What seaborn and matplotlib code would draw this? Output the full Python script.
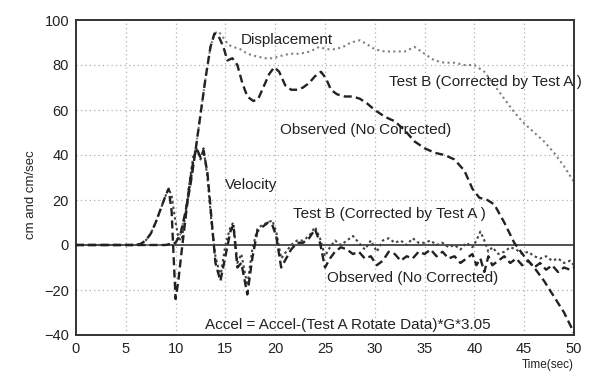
import matplotlib
matplotlib.use("Agg")
import matplotlib.pyplot as plt
import seaborn as sns
import pandas as pd

# ---------------- data ----------------
t_disp_obs = [0, 5, 9, 9.5, 10, 10.5, 11, 11.5, 12, 12.5, 13, 13.5, 13.9, 14.3, 14.8, 15.2, 15.7,
              16.2, 16.7, 17.2, 17.8, 18.3, 18.8, 19.4, 19.9, 20.4, 21.0, 21.6, 22.2, 22.8, 23.4,
              24.0, 24.6, 25.1, 25.6, 26.2, 27.0, 27.8, 28.5, 29.2, 30, 31, 32, 33, 34, 35, 36, 37,
              38, 39, 39.8, 40.5, 41.3, 42, 43, 44, 45, 46, 47, 48, 49, 50]
disp_obs = [0, 0, 0, 0.5, 1, 5, 15, 27, 42, 58, 74, 88, 94, 93, 88, 82, 83,
            80, 72, 66, 64, 65, 70, 76, 79, 77, 71, 69, 69, 70, 72,
            75, 77, 74, 69, 67, 66, 66, 65, 63, 60, 57, 55, 51, 46, 43, 41, 40,
            38, 33, 25, 21, 20, 18, 10, 1, -5, -10, -16, -23, -30, -39]

t_disp_b = [0, 5, 9, 9.5, 10, 10.5, 11, 11.5, 12, 12.5, 13, 13.5, 13.9, 14.3, 14.8, 15.3, 15.8,
            16.5, 17.2, 18, 19, 19.8, 20.5, 21.5, 22.5, 23.5, 24.4, 25.2, 26, 26.8, 27.6, 28.5,
            29.3, 30, 31, 32, 33, 34, 35, 36, 37, 38, 39, 40, 41, 42, 43, 44, 45, 46, 47, 48, 49, 50]
disp_b = [0, 0, 0, 0.5, 1, 5, 15, 27, 42, 58, 74, 88, 94, 95, 92, 89, 88,
          87, 85, 84, 83, 83, 84, 85, 85, 86, 88, 87, 87, 88, 90, 91,
          89, 87, 86, 86, 86, 88, 85, 82, 81, 81, 80, 80, 77, 71, 65, 59, 54, 50, 46, 41, 35, 28]

t_vel = [0, 6, 6.5, 7, 7.5, 8, 8.5, 9, 9.3, 9.6, 9.8, 10.0, 10.3, 10.6, 11.0, 11.4, 11.8, 12.1,
         12.5, 12.8, 13.2, 13.6, 14.0, 14.5, 15.0, 15.5, 15.8, 16.2, 16.6, 17.2, 17.7, 18.2, 18.7,
         19.3, 19.7, 20.1, 20.6, 21.1, 21.6, 22.2, 22.8, 23.4, 24.0, 24.5, 25.0, 25.5, 26.0, 26.6,
         27.2, 27.8, 28.4, 29.0, 29.6, 30.2, 30.8, 31.4, 32.0, 32.6, 33.2, 33.8, 34.4, 35.0, 35.6,
         36.2, 36.8, 37.4, 38.0, 38.6, 39.2, 39.8, 40.2, 40.6, 41.0, 41.4, 41.8, 42.4, 43.0, 43.6,
         44.2, 44.8, 45.4, 46.0, 46.6, 47.2, 47.8, 48.4, 49.0, 49.6, 50.0]
vel_obs = [0, 0, 0.5, 2, 5, 10, 16, 22, 25, 15, -5, -24, -15, -3, 12, 27, 38, 43,
           39, 42, 32, 12, -8, -16, -5, 6, 9, -10, -8, -22, -6, 6, 8,
           10, 9, 4, -10, -6, -2, 1, 1, 3, 7, 1, -10, -6, -3, -1,
           -2, -4, -3, -6, -5, -9, -7, -3, -4, -7, -5, -6, -3, -4, -2,
           -5, -3, -6, -5, -8, -6, -4, -9, -6, -12, -5, -9, -7, -5, -8,
           -6, -9, -7, -10, -8, -11, -9, -12, -10, -11, -10]
vel_b = [0, 0, 0.5, 2, 5, 10, 16, 22, 25, 22, 16, 10, 3, 2, 14, 28, 40, 43,
         38, 43, 30, 10, -5, -14, 0, 8, 10, -8, -4, -18, -2, 7, 9,
         10, 11, 6, -6, -3, 0, 2, 2, 4, 8, 3, -5, -1, 2, 0,
         2, 4, 1, -2, 2, -3, 2, 3, 1, 2, 0, 3, 1, 1, 2,
         0, 1, -1, 0, -2, 1, -1, 2, 6, 2, -3, -1, -4, -3, -1,
         -2, -4, -3, -5, -6, -5, -7, -6, -8, -7, -9]

x_ticks = [0, 5, 10, 15, 20, 25, 30, 35, 40, 45, 50]
y_ticks = [-40, -20, 0, 20, 40, 60, 80, 100]

labels = [
    ("Displacement", 16.5, 91.1),
    ("Test B (Corrected by Test A )", 31.4, 72.4),
    ("Observed (No Corrected)", 20.5, 51.1),
    ("Velocity", 15.0, 26.7),
    ("Test B (Corrected by Test A )", 21.8, 13.8),
    ("Observed (No Corrected)", 25.25, -14.7),
    ("Accel = Accel-(Test A Rotate Data)*G*3.05", 13.0, -35.6),
]

# ---------------- plot ----------------
sns.set_style("white")
plt.rcParams['font.family'] = ['Liberation Sans', 'DejaVu Sans']

fig = plt.figure(figsize=(5.92, 3.76), dpi=100)
ax = fig.add_axes([76/592, 1-335/376, (574-76)/592, (335-20)/376])

for xv in x_ticks[1:-1]:
    ax.axvline(xv, color='#b0b0b0', lw=0.9, ls=(0, (1, 2.5)), zorder=0)
for yv in [-20, 20, 40, 60, 80]:
    ax.axhline(yv, color='#b0b0b0', lw=0.9, ls=(0, (1, 2.5)), zorder=0)
ax.axhline(0, color='#333333', lw=1.2, zorder=1)

df_do = pd.DataFrame({"t": t_disp_obs, "v": disp_obs})
df_db = pd.DataFrame({"t": t_disp_b, "v": disp_b})
df_vo = pd.DataFrame({"t": t_vel, "v": vel_obs})
df_vb = pd.DataFrame({"t": t_vel, "v": vel_b})

sns.lineplot(data=df_db, x="t", y="v", ax=ax, color='#808080', lw=1.5,
             linestyle=(0, (1, 1.6)), zorder=2, estimator=None, sort=False)
sns.lineplot(data=df_vb, x="t", y="v", ax=ax, color='#444444', lw=1.5,
             linestyle=(0, (1.2, 1.4)), zorder=2, estimator=None, sort=False)
sns.lineplot(data=df_do, x="t", y="v", ax=ax, color='#222222', lw=1.7,
             linestyle=(0, (3.4, 1.8)), zorder=3, estimator=None, sort=False)
sns.lineplot(data=df_vo, x="t", y="v", ax=ax, color='#222222', lw=1.7,
             linestyle=(0, (3.4, 1.8)), zorder=3, estimator=None, sort=False)

for txt, xv, yv in labels:
    ax.text(xv, yv, txt, ha='left', va='center', fontsize=11, color='#222222', zorder=5)

ax.set_xlim(0, 50)
ax.set_ylim(-40, 100)
ax.set_xticks(x_ticks)
ax.set_yticks(y_ticks)
ax.tick_params(axis='both', labelsize=10.5, direction='inout', length=4, width=0.8,
               colors='#222222', pad=3)
for s in ax.spines.values():
    s.set_color('#333333')
    s.set_linewidth(1.4)
    s.set_visible(True)

ax.set_xlabel("Time(sec)", loc='right', fontsize=8.5, labelpad=2, color='#222222')
ax.set_ylabel("")
fig.text(31/592, 1-195/376, "cm and cm/sec", rotation=90, ha='center', va='center',
         fontsize=9.5, color='#222222')

fig.savefig("out.png", dpi=100)
